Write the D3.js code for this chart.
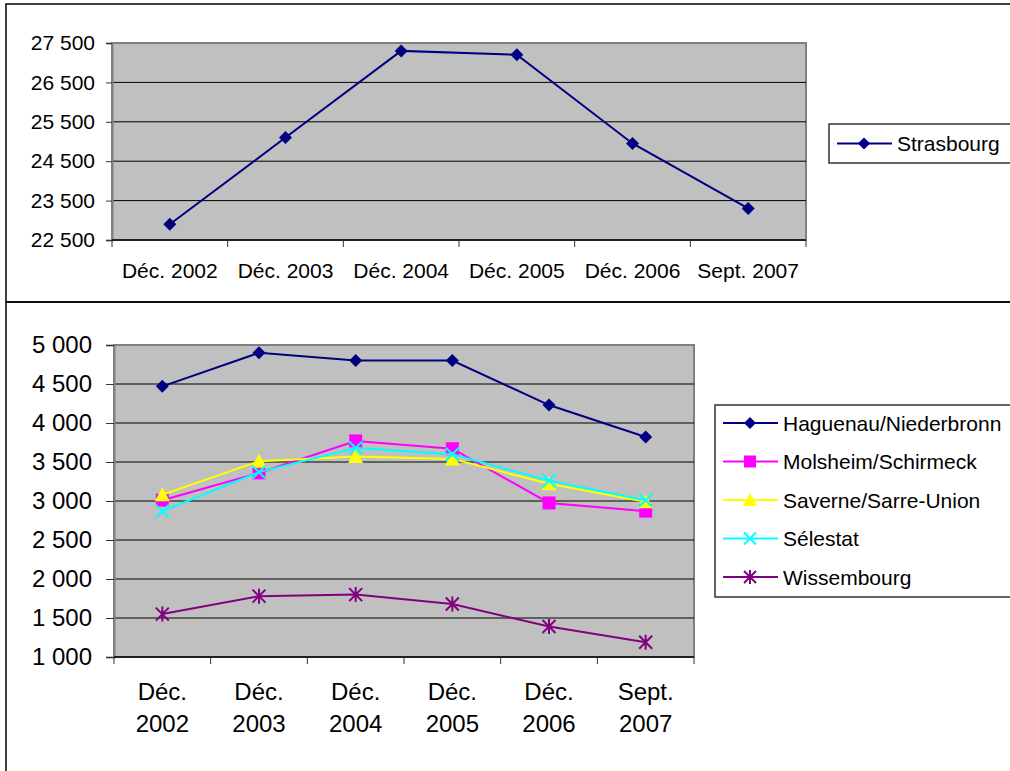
<!DOCTYPE html>
<html>
<head>
<meta charset="utf-8">
<script src="https://cdn.jsdelivr.net/npm/d3@7"></script>
<style>
  body { margin: 0; background: #fff; }
  svg { display: block; font-family: "Liberation Sans", Arial, sans-serif; }
</style>
</head>
<body>
<svg width="1010" height="771"></svg>
<script>
// periods (x axis)
var periods = ["Déc. 2002", "Déc. 2003", "Déc. 2004", "Déc. 2005", "Déc. 2006", "Sept. 2007"];
var periodsTop = ["Déc.", "Déc.", "Déc.", "Déc.", "Déc.", "Sept."];
var periodsYear = ["2002", "2003", "2004", "2005", "2006", "2007"];

// top chart
var strasbourg = [22900, 25100, 27300, 27200, 24950, 23300];
var ticksTop = [22500, 23500, 24500, 25500, 26500, 27500];

// bottom chart
var areas = ["Haguenau/Niederbronn", "Molsheim/Schirmeck", "Saverne/Sarre-Union", "Sélestat", "Wissembourg"];
var haguenau = [4470, 4900, 4800, 4800, 4230, 3820];
var molsheim = [3010, 3360, 3770, 3670, 2975, 2870];
var saverne = [3080, 3510, 3570, 3540, 3220, 2990];
var selestat = [2870, 3370, 3680, 3600, 3260, 3010];
var wissembourg = [1550, 1780, 1800, 1680, 1390, 1190];
var ticksBottom = [1000, 1500, 2000, 2500, 3000, 3500, 4000, 4500, 5000];

var colors = ["#000080", "#ff00ff", "#ffff00", "#00ffff", "#800080"];
var markers = ["diamond", "square", "triangle", "x", "star"];

var fr = d3.formatLocale({decimal: ",", thousands: " ", grouping: [3], currency: ["", " €"]});
var fmt = fr.format(",d");

var svg = d3.select("svg");

// frames round both charts
svg.append("rect").attr("x", 6).attr("y", 4).attr("width", 1020).attr("height", 298)
  .attr("fill", "none").attr("stroke", "#000").attr("stroke-width", 1.5);
svg.append("rect").attr("x", 6).attr("y", 302).attr("width", 1020).attr("height", 490)
  .attr("fill", "none").attr("stroke", "#000").attr("stroke-width", 1.5);

function marker(g, type, x, y, color, s) {
  if (type == "diamond") {
    g.append("path").attr("d", "M" + x + "," + (y - s) + "L" + (x + s) + "," + y + "L" + x + "," + (y + s) + "L" + (x - s) + "," + y + "Z")
      .attr("fill", color);
  } else if (type == "square") {
    g.append("rect").attr("x", x - s).attr("y", y - s).attr("width", 2 * s).attr("height", 2 * s).attr("fill", color);
  } else if (type == "triangle") {
    g.append("path").attr("d", "M" + x + "," + (y - s - 1) + "L" + (x + s + 1) + "," + (y + s) + "L" + (x - s - 1) + "," + (y + s) + "Z")
      .attr("fill", color);
  } else if (type == "x") {
    g.append("path").attr("d", "M" + (x - s) + "," + (y - s) + "L" + (x + s) + "," + (y + s) + "M" + (x + s) + "," + (y - s) + "L" + (x - s) + "," + (y + s))
      .attr("stroke", color).attr("stroke-width", 2);
  } else {
    g.append("path").attr("d", "M" + (x - s) + "," + (y - s) + "L" + (x + s) + "," + (y + s) + "M" + (x + s) + "," + (y - s) + "L" + (x - s) + "," + (y + s) +
      "M" + x + "," + (y - s - 1) + "L" + x + "," + (y + s + 1))
      .attr("stroke", color).attr("stroke-width", 2);
  }
}

function chart(opt) {
  var x = d3.scaleBand().domain(periods).range([opt.left, opt.right]);
  var y = d3.scaleLinear().domain([opt.ticks[0], opt.ticks[opt.ticks.length - 1]]).range([opt.bottom, opt.top]);

  // plot area
  svg.append("rect").attr("x", opt.left).attr("y", opt.top)
    .attr("width", opt.right - opt.left).attr("height", opt.bottom - opt.top)
    .attr("fill", "#c0c0c0").attr("stroke", "#808080").attr("stroke-width", 2);

  // gridlines
  svg.append("g").selectAll("line")
    .data(opt.ticks.slice(1, -1))
    .enter().append("line")
    .attr("x1", opt.left).attr("x2", opt.right)
    .attr("y1", function (d) { return y(d); }).attr("y2", function (d) { return y(d); })
    .attr("stroke", "#000").attr("stroke-width", 1);

  var yAxis = svg.append("g").attr("transform", "translate(" + opt.left + ",0)")
    .call(d3.axisLeft(y).tickValues(opt.ticks).tickFormat(fmt).tickSize(opt.tick).tickPadding(opt.pad));
  yAxis.select(".domain").attr("stroke", "#808080").attr("stroke-width", 2);
  yAxis.selectAll(".tick line").attr("stroke", "#333");
  yAxis.selectAll("text").attr("font-size", opt.yFont).attr("fill", "#000")
    .attr("font-family", "Liberation Sans, Arial, sans-serif");

  // category axis
  var xa = svg.append("g");
  xa.append("line").attr("x1", opt.left).attr("x2", opt.right).attr("y1", opt.bottom).attr("y2", opt.bottom)
    .attr("stroke", "#000").attr("stroke-width", 1.5);
  xa.selectAll(".t").data(periods.concat(["end"])).enter().append("line")
    .attr("x1", function (d, i) { return opt.left + i * x.bandwidth(); })
    .attr("x2", function (d, i) { return opt.left + i * x.bandwidth(); })
    .attr("y1", opt.bottom).attr("y2", opt.bottom + 7)
    .attr("stroke", "#333");

  if (opt.twoLine) {
    xa.selectAll(".l1").data(periods).enter().append("text")
      .attr("x", function (d) { return x(d) + x.bandwidth() / 2; })
      .attr("y", opt.labelY)
      .attr("text-anchor", "middle").attr("font-size", opt.xFont)
      .text(function (d, i) { return periodsTop[i]; });
    xa.selectAll(".l2").data(periods).enter().append("text")
      .attr("x", function (d) { return x(d) + x.bandwidth() / 2; })
      .attr("y", opt.labelY + 32)
      .attr("text-anchor", "middle").attr("font-size", opt.xFont)
      .text(function (d, i) { return periodsYear[i]; });
  } else {
    xa.selectAll(".l1").data(periods).enter().append("text")
      .attr("x", function (d) { return x(d) + x.bandwidth() / 2; })
      .attr("y", opt.labelY)
      .attr("text-anchor", "middle").attr("font-size", opt.xFont)
      .text(function (d) { return d; });
  }

  // series
  var line = d3.line()
    .x(function (d, i) { return x(periods[i]) + x.bandwidth() / 2; })
    .y(function (d) { return y(d); });

  opt.series.forEach(function (s, k) {
    svg.append("path").datum(s).attr("d", line)
      .attr("fill", "none").attr("stroke", colors[k]).attr("stroke-width", 2);
    var g = svg.append("g");
    s.forEach(function (v, i) {
      marker(g, markers[k], x(periods[i]) + x.bandwidth() / 2, y(v), colors[k], opt.ms);
    });
  });

  // legend
  var lg = svg.append("g");
  lg.append("rect").attr("x", opt.legX).attr("y", opt.legY).attr("width", 320).attr("height", opt.legH)
    .attr("fill", "#fff").attr("stroke", "#333").attr("stroke-width", 1.5);
  opt.names.forEach(function (n, k) {
    var cy = opt.legY + opt.legFirst + k * 38.5;
    lg.append("line").attr("x1", opt.legX + 8).attr("x2", opt.legX + 63).attr("y1", cy).attr("y2", cy)
      .attr("stroke", colors[k]).attr("stroke-width", 2);
    marker(lg, markers[k], opt.legX + 35, cy, colors[k], 6);
    lg.append("text").attr("x", opt.legX + 68).attr("y", cy + 7.5)
      .attr("font-size", 21).text(n);
  });
}

chart({
  left: 112, right: 806, top: 43, bottom: 240,
  ticks: ticksTop, tick: 6, pad: 11, yFont: 21, xFont: 21, labelY: 278,
  series: [strasbourg], names: ["Strasbourg"], ms: 6.5,
  legX: 829, legY: 124, legH: 39, legFirst: 19.5
});

chart({
  left: 114, right: 694, top: 345, bottom: 657,
  ticks: ticksBottom, tick: 8, pad: 14, yFont: 24, xFont: 24, labelY: 700, twoLine: true,
  series: [haguenau, molsheim, saverne, selestat, wissembourg], names: areas, ms: 6.5,
  legX: 715, legY: 405, legH: 192, legFirst: 18
});
</script>
</body>
</html>
